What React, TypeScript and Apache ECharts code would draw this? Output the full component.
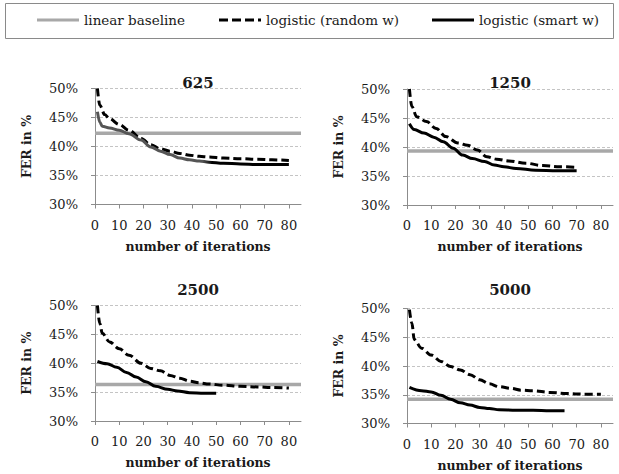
import React, { useEffect, useRef } from "react";
import * as echarts from "echarts";

// ---- data ----
const PANEL_TITLES = ["625", "1250", "2500", "5000"];
const SERIES_NAMES = ["linear baseline", "logistic (random w)", "logistic (smart w)"];
const X_TICKS = [0, 10, 20, 30, 40, 50, 60, 70, 80];
const Y_TICKS = [30, 35, 40, 45, 50];

const BASELINES = [42.3, 39.3, 36.3, 34.2];

const RANDOM_X_625 = [1, 2, 4, 6, 10, 14, 19, 23, 27, 31, 35, 39, 43, 47, 53, 60, 67, 73, 80];
const RANDOM_Y_625 = [50, 47.1, 45.5, 44.8, 43.8, 42.8, 41.4, 40.3, 39.6, 39.2, 38.8, 38.5, 38.3, 38.2, 38.0, 37.9, 37.8, 37.7, 37.6];
const SMART_X_625 = [1, 2, 3, 6, 10, 14, 19, 23, 27, 31, 35, 39, 43, 47, 53, 60, 67, 73, 80];
const SMART_Y_625 = [46.0, 44.2, 43.5, 43.2, 42.8, 42.2, 41.1, 39.9, 39.2, 38.6, 38.0, 37.7, 37.5, 37.3, 37.1, 37.0, 36.9, 36.9, 36.9];

const RANDOM_X_1250 = [1, 2, 4, 8, 12, 16, 21, 25, 29, 33, 37, 42, 49, 56, 63, 70];
const RANDOM_Y_1250 = [50, 47, 45.2, 44.4, 43.2, 41.8, 40.7, 40.3, 39.5, 38.3, 37.9, 37.6, 37.2, 36.8, 36.6, 36.5];
const SMART_X_1250 = [1, 3, 7, 11, 15, 19, 23, 27, 32, 36, 40, 45, 53, 62, 70];
const SMART_Y_1250 = [44.0, 43.0, 42.4, 41.7, 40.9, 39.8, 38.6, 38.0, 37.5, 36.9, 36.6, 36.3, 36.0, 35.9, 35.9];

const RANDOM_X_2500 = [1, 2, 3, 6, 10, 14, 19, 23, 27, 31, 35, 39, 43, 47, 53, 60, 67, 73, 80];
const RANDOM_Y_2500 = [50, 46.9, 45.2, 43.7, 42.5, 41.4, 40.0, 39.1, 38.7, 37.9, 37.4, 36.9, 36.6, 36.4, 36.2, 36.0, 35.9, 35.8, 35.7];
const SMART_X_2500 = [1, 5, 9, 13, 17, 21, 25, 30, 34, 39, 45, 50];
const SMART_Y_2500 = [40.3, 39.9, 39.3, 38.4, 37.6, 36.8, 36.0, 35.5, 35.2, 34.9, 34.8, 34.8];

const RANDOM_X_5000 = [1, 2, 3, 6, 10, 14, 18, 22, 26, 30, 34, 38, 43, 47, 52, 59, 66, 73, 80];
const RANDOM_Y_5000 = [49.8, 47.5, 44.6, 43.1, 41.9, 40.8, 39.9, 39.3, 38.5, 37.6, 36.9, 36.4, 36.1, 35.8, 35.7, 35.4, 35.2, 35.1, 35.1];
const SMART_X_5000 = [1, 6, 10, 14, 18, 22, 26, 30, 34, 38, 45, 52, 59, 65];
const SMART_Y_5000 = [36.3, 35.7, 35.5, 34.9, 34.2, 33.6, 33.2, 32.8, 32.6, 32.4, 32.3, 32.3, 32.2, 32.2];

const RANDOM_X = [RANDOM_X_625, RANDOM_X_1250, RANDOM_X_2500, RANDOM_X_5000];
const RANDOM_Y = [RANDOM_Y_625, RANDOM_Y_1250, RANDOM_Y_2500, RANDOM_Y_5000];
const SMART_X = [SMART_X_625, SMART_X_1250, SMART_X_2500, SMART_X_5000];
const SMART_Y = [SMART_Y_625, SMART_Y_1250, SMART_Y_2500, SMART_Y_5000];

const X_MIN = 0;
const X_MAX = 85;

// ---- layout / style ----
const FONT = "DejaVu Serif";
const TEXT_COLOR = "#1a1a1a";
const AXIS_COLOR = "#8c8c8c";
const GRID_COLOR = "#c4c4c4";
const BASE_COLOR = "#a8a8a8";

const GRIDS = [
  { left: 95, top: 88.5, width: 206, height: 116 },
  { left: 407, top: 89, width: 206, height: 116 },
  { left: 95, top: 305.5, width: 206, height: 115.5 },
  { left: 407, top: 308.5, width: 206, height: 115 },
];

// legend icon shapes (42 x 3 units, stretched to the legend item box)
const LEGEND_ICONS = [
  "path://M0,0h42v3h-42z",
  "path://M0,0h9v3h-9zM13,0h9v3h-9zM26,0h9v3h-9zM39,0h3v3h-3z",
  "path://M0,0h42v3h-42z",
];

const zip = (xs: number[], ys: number[]) => xs.map((x, i) => [x, ys[i]]);

export default function App() {
  const ref = useRef<HTMLDivElement>(null);

  useEffect(() => {
    if (!ref.current) return;
    const chart = echarts.init(ref.current, null, { renderer: "svg" });

    const grid = GRIDS.map((g) => ({ ...g, containLabel: false }));

    const xAxis = GRIDS.map((_, i) => ({
      type: "value",
      gridIndex: i,
      min: X_MIN,
      max: X_MAX,
      interval: 10,
      name: "number of iterations",
      nameLocation: "middle",
      nameGap: 35,
      nameTextStyle: { fontFamily: FONT, fontWeight: "bold", fontSize: 12.5, color: TEXT_COLOR },
      axisLine: { show: true, lineStyle: { color: AXIS_COLOR, width: 1 } },
      axisTick: { show: true, length: 4, lineStyle: { color: AXIS_COLOR }, customValues: X_TICKS },
      axisLabel: {
        margin: 14,
        fontFamily: FONT,
        fontSize: 13,
        color: TEXT_COLOR,
        customValues: X_TICKS,
        formatter: (v: number) => (X_TICKS.includes(v) ? String(v) : ""),
      },
      splitLine: { show: false },
    }));

    const yAxis = GRIDS.map((_, i) => ({
      type: "value",
      gridIndex: i,
      min: Y_TICKS[0],
      max: Y_TICKS[Y_TICKS.length - 1],
      interval: 5,
      name: "FER in %",
      nameLocation: "middle",
      nameGap: 62,
      nameRotate: 90,
      nameTextStyle: { fontFamily: FONT, fontWeight: "bold", fontSize: 12.5, color: TEXT_COLOR },
      axisLine: { show: true, lineStyle: { color: AXIS_COLOR, width: 1 } },
      axisTick: { show: true, length: 4, lineStyle: { color: AXIS_COLOR } },
      axisLabel: {
        margin: 17,
        fontFamily: FONT,
        fontSize: 13,
        color: TEXT_COLOR,
        formatter: (v: number) => v + "%",
      },
      splitLine: { show: true, lineStyle: { color: GRID_COLOR, type: [3, 2], width: 1 } },
    }));

    const series: any[] = [];
    const order = [1, 2, 3, 0];
    order.forEach((i) => {
      series.push({
        name: SERIES_NAMES[0],
        type: "line",
        xAxisIndex: i,
        yAxisIndex: i,
        symbol: "none",
        data: [
          [X_MIN, BASELINES[i]],
          [X_MAX, BASELINES[i]],
        ],
        lineStyle: { color: BASE_COLOR, width: 3.5 },
        itemStyle: { color: BASE_COLOR },
        silent: true,
      });
      series.push({
        name: SERIES_NAMES[1],
        type: "line",
        xAxisIndex: i,
        yAxisIndex: i,
        symbol: "none",
        smooth: 0.35,
        smoothMonotone: "x",
        data: zip(RANDOM_X[i], RANDOM_Y[i]),
        lineStyle: { color: "#000", width: 3, type: [8, 4] },
        itemStyle: { color: "#000" },
        silent: true,
      });
      const smartColor =
        i === 0
          ? new echarts.graphic.LinearGradient(0, 0, 1, 0, [
              { offset: 0, color: "#555" },
              { offset: 0.55, color: "#555" },
              { offset: 0.6, color: "#000" },
              { offset: 1, color: "#000" },
            ])
          : "#000";
      series.push({
        name: SERIES_NAMES[2],
        type: "line",
        xAxisIndex: i,
        yAxisIndex: i,
        symbol: "none",
        smooth: 0.35,
        smoothMonotone: "x",
        data: zip(SMART_X[i], SMART_Y[i]),
        lineStyle: { color: smartColor, width: 3 },
        itemStyle: { color: "#000" },
        silent: true,
      });
    });

    const legendLefts = [37, 219, 432];
    const legend = SERIES_NAMES.map((name, k) => ({
      data: [{ name, icon: LEGEND_ICONS[k] }],
      left: legendLefts[k],
      top: 13,
      padding: 0,
      itemWidth: 42,
      itemHeight: k === 0 ? 3.5 : 3,
      selectedMode: false,
      itemStyle: { color: k === 0 ? BASE_COLOR : "#000", borderWidth: 0 },
      lineStyle: { width: 0 },
      textStyle: { fontFamily: FONT, fontSize: 13.5, color: TEXT_COLOR },
    }));

    const graphic: any[] = [
      {
        type: "rect",
        shape: { x: 5.5, y: 3.5, width: 608, height: 35 },
        style: { fill: "none", stroke: "#8a8a8a", lineWidth: 1 },
        silent: true,
      },
    ];
    GRIDS.forEach((g, i) => {
      graphic.push({
        type: "text",
        x: g.left + g.width / 2,
        y: i < 2 ? 83 : 290,
        style: {
          text: PANEL_TITLES[i],
          fontFamily: FONT,
          fontWeight: "bold",
          fontSize: 15,
          fill: TEXT_COLOR,
          textAlign: "center",
          textVerticalAlign: "middle",
        },
        silent: true,
      });
    });

    chart.setOption({
      animation: false,
      backgroundColor: "#fff",
      grid,
      xAxis,
      yAxis,
      series,
      legend,
      graphic,
    });

    return () => chart.dispose();
  }, []);

  return (
    <div
      ref={ref}
      style={{ position: "fixed", left: 0, top: 0, width: 619, height: 474, background: "#fff" }}
    />
  );
}
